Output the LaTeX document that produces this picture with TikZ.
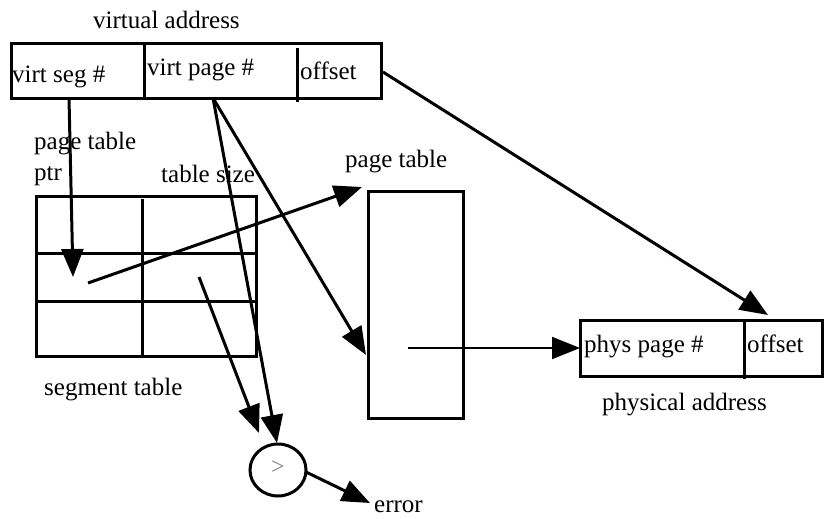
\documentclass[tikz,border=0pt]{standalone}
\usepackage{fontspec}
\setmainfont{Liberation Serif}
\usetikzlibrary{arrows.meta,shapes.geometric}
\begin{document}
\begin{tikzpicture}[x=1pt,y=-1pt,
  box/.style={draw,line width=3pt,inner sep=0pt,outer sep=0pt},
  lbl/.style={inner sep=0pt,anchor=base west,font=\fontsize{25}{30}\selectfont},
  arr/.style={line width=3pt,-{Triangle[length=28pt,width=22pt]}},
  thinarr/.style={line width=2pt,-{Triangle[length=28pt,width=22pt]}}]
\useasboundingbox (0,0) rectangle (824,519);
% virtual address
\node[box,minimum width=370pt,minimum height=54pt,anchor=north west] (va) at (11,44) {};
\draw[line width=3pt] (144,42) -- (144,97);
\draw[line width=3pt] (297,48) -- (297,102);
\node[lbl] (vat) at (93,29) {virtual address};
\node[lbl] (vseg) at (12,82) {virt seg \#};
\node[lbl] (vpage) at (147,75) {virt page \#};
\node[lbl] (voff) at (300,79) {offset};
% segment table
\node[box,minimum width=220pt,minimum height=160pt,anchor=north west] (st) at (36,196) {};
\draw[line width=3pt] (36,253) -- (256,253);
\draw[line width=3pt] (36,301) -- (256,301);
\draw[line width=3pt] (142,199) -- (142,356);
\node[lbl] (ptp) at (34,149) {page table};
\node[lbl] (ptr) at (34,180) {ptr};
\node[lbl] (tsz) at (161,182) {table size};
\node[lbl] (stl) at (44,395) {segment table};
% page table
\node[box,minimum width=95pt,minimum height=227pt,anchor=north west] (pt) at (368,191) {};
\node[lbl] (ptl) at (345,167) {page table};
% physical address
\node[box,minimum width=242pt,minimum height=56pt,anchor=north west] (pa) at (580,320) {};
\draw[line width=3pt] (744,320) -- (744,379);
\node[lbl] (ppage) at (584,352) {phys page \#};
\node[lbl] (poff) at (747,352) {offset};
\node[lbl] (pal) at (602,410) {physical address};
% comparator
\node[draw,ellipse,line width=3pt,minimum width=56pt,minimum height=52pt,inner sep=0pt] (cmp) at (278,470) {};
\node[inner sep=0pt,text=gray,font=\fontsize{24}{28}\selectfont] (gt) at (278,468) {>};
\node[lbl] (err) at (374,512) {error};
% connector points
\coordinate (a1) at (69,98);
\coordinate (a1e) at (73,277);
\coordinate (a2) at (88,283);
\coordinate (a2e) at (362,187);
\coordinate (vp) at (213,98);
\coordinate (c1) at (277,443);
\coordinate (pt1) at (366,355);
\coordinate (ts) at (199,277);
\coordinate (c2) at (259,433);
\coordinate (o1) at (383,72);
\coordinate (o1e) at (768,315);
\coordinate (ptin) at (408,348);
\coordinate (ppin) at (580,348);
\coordinate (cr) at (306,472);
\coordinate (ee) at (370,503);
% connectors
\draw[arr] (a1) -- (a1e);
\draw[arr] (a2) -- (a2e);
\draw[arr] (vp) -- (c1);
\draw[arr] (vp) -- (pt1);
\draw[arr] (ts) -- (c2);
\draw[arr] (o1) -- (o1e);
\draw[thinarr] (ptin) -- (ppin);
\draw[arr] (cr) -- (ee);
\end{tikzpicture}
\end{document}
